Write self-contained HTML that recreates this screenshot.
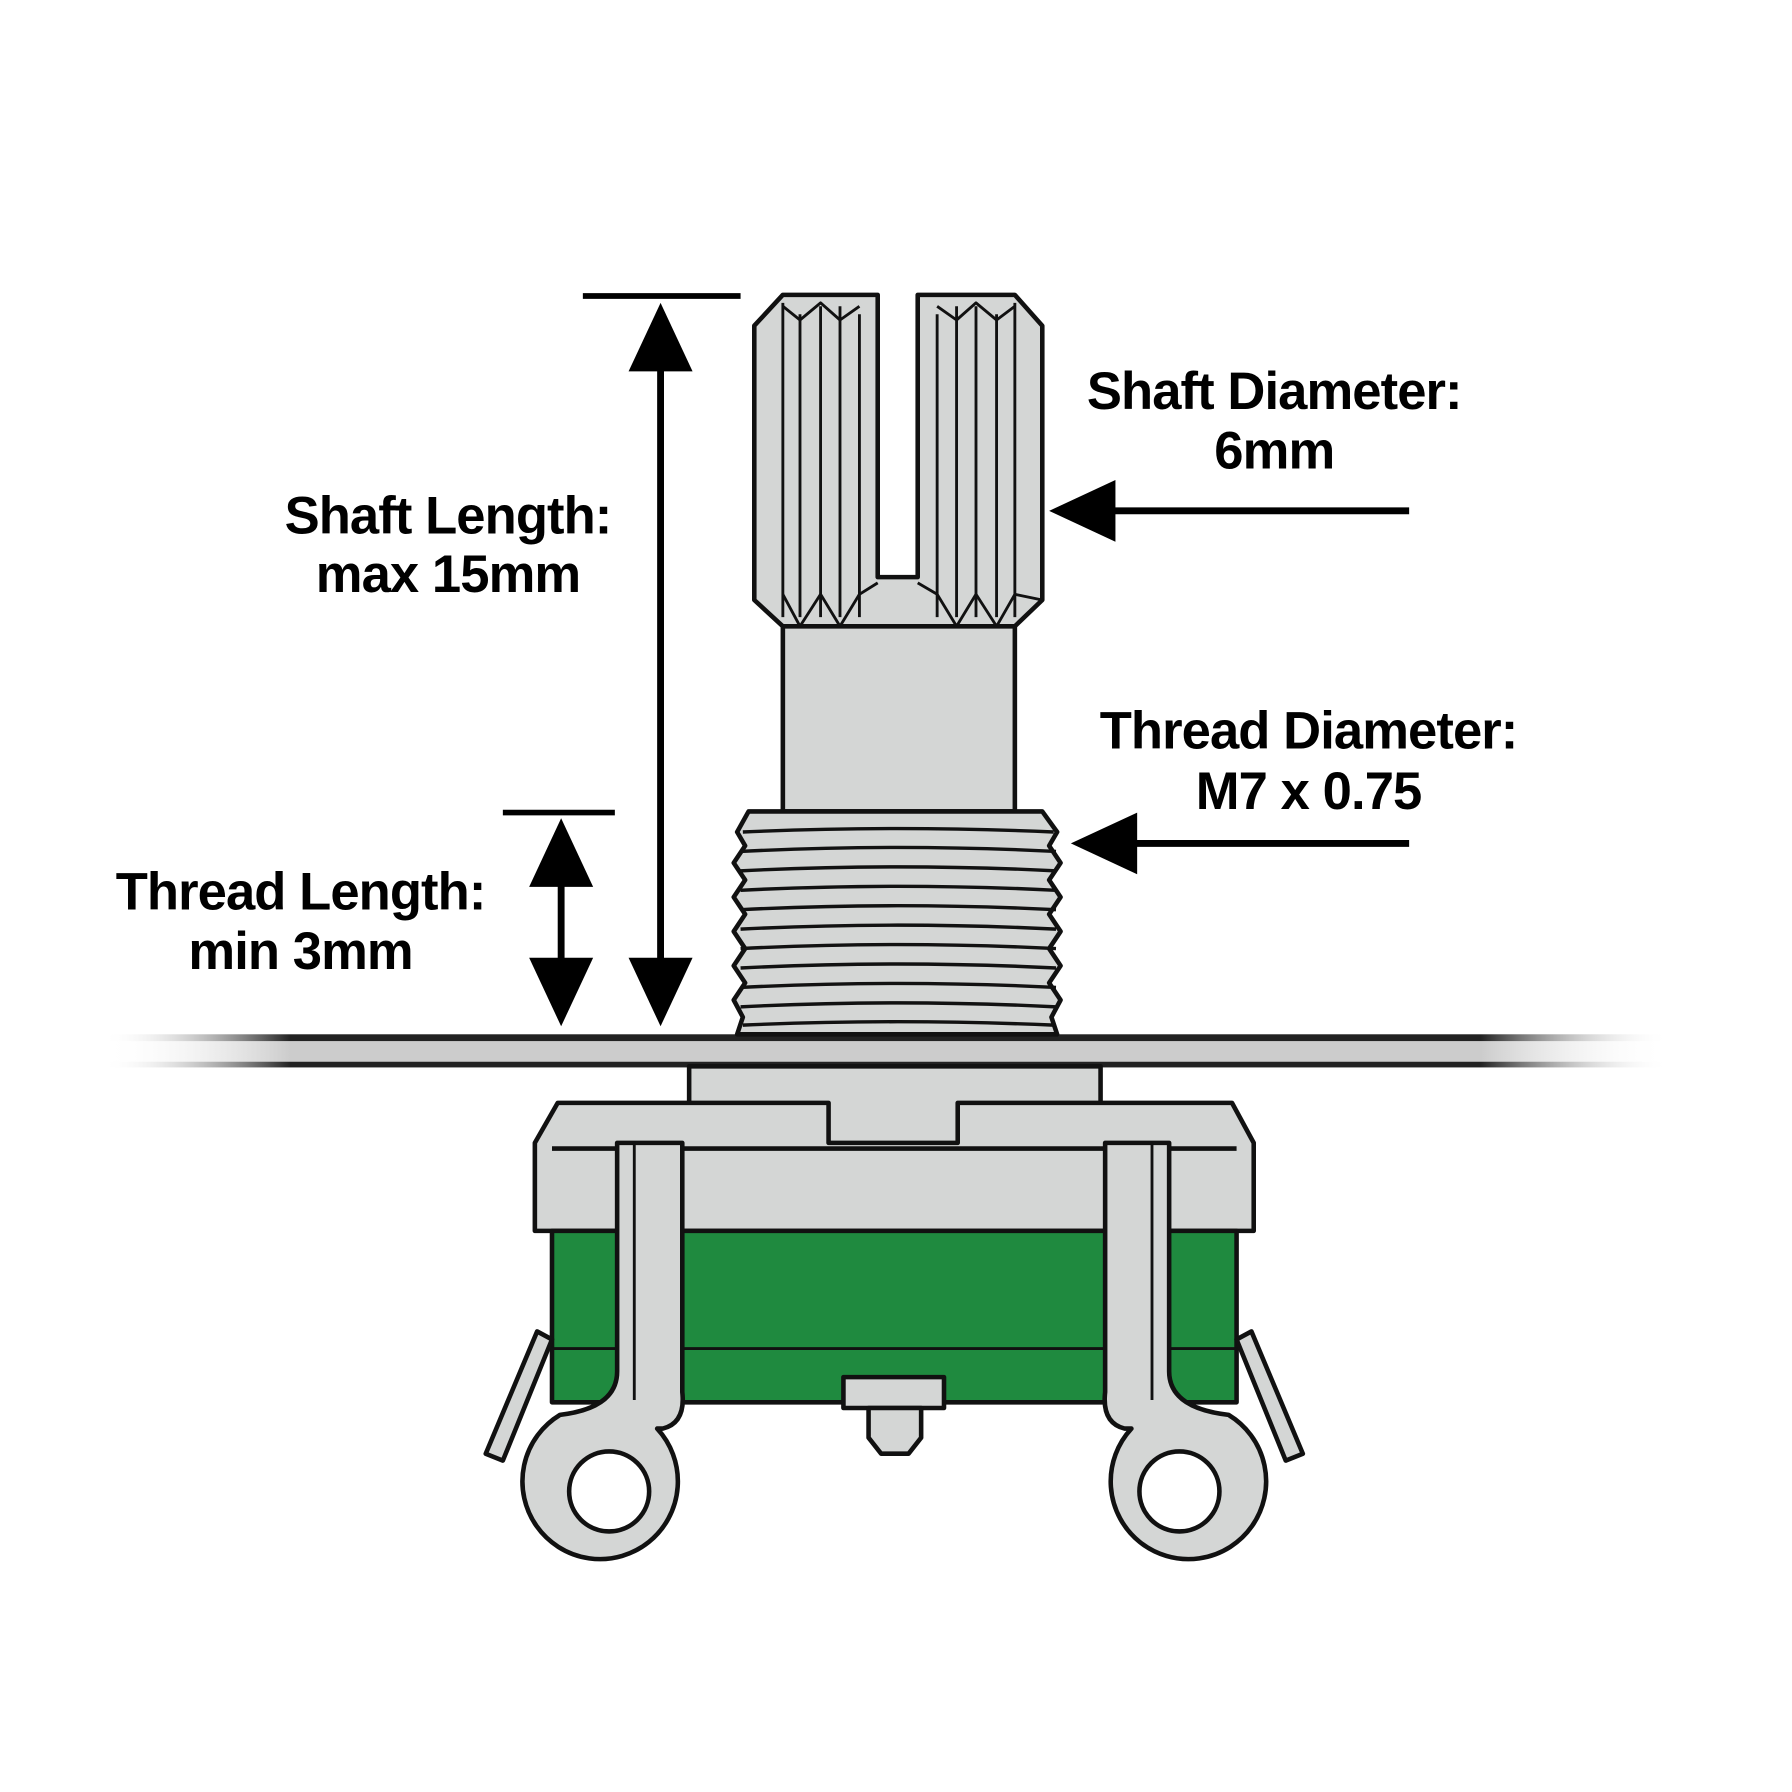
<!DOCTYPE html>
<html><head><meta charset="utf-8"><style>
html,body{margin:0;padding:0;background:#fff;}
svg{display:block;}
text{font-family:"Liberation Sans",sans-serif;font-weight:bold;font-size:46px;fill:#000;letter-spacing:-0.8px;}
</style></head><body>
<svg width="1792" height="1792" viewBox="0 0 1568 1568" xmlns="http://www.w3.org/2000/svg">
<defs>
<linearGradient id="plate" x1="0" x2="1" y1="0" y2="0">
<stop offset="0" stop-color="#fff" stop-opacity="0"/>
<stop offset="0.12" stop-color="#222"/>
<stop offset="0.88" stop-color="#222"/>
<stop offset="1" stop-color="#fff" stop-opacity="0"/>
</linearGradient>
<linearGradient id="plate2" x1="0" x2="1" y1="0" y2="0">
<stop offset="0" stop-color="#fff" stop-opacity="0"/>
<stop offset="0.12" stop-color="#999"/>
<stop offset="0.88" stop-color="#999"/>
<stop offset="1" stop-color="#fff" stop-opacity="0"/>
</linearGradient>
</defs>
<rect width="1568" height="1568" fill="#fff"/>

<rect x="90" y="905" width="1370" height="6" fill="url(#plate)"/>
<rect x="90" y="911" width="1370" height="18" fill="url(#plate2)" opacity="0.5"/>
<rect x="90" y="929" width="1370" height="5" fill="url(#plate)"/>

<g stroke="#111" stroke-width="4" stroke-linejoin="round">
<path d="M660,285 L685,258 L768,258 L768,505 L803,505 L803,258 L888,258 L912,285 L912,525 L888,548 L685,548 L660,525 Z" fill="#d4d6d5"/>
<g fill="none" stroke-width="2.5">
<path d="M685,265 L685,540 M700,275 L700,540 M718,268 L718,540 M735,268 L735,540 M752,275 L752,540"/>
<path d="M820,275 L820,540 M837,268 L837,540 M854,268 L854,540 M872,275 L872,540 M888,265 L888,540"/>
<path d="M685,268 L700,280 L718,265 L735,280 L752,268 M820,268 L837,280 L854,265 L872,280 L888,268"/>
<path d="M660,525 L685,548 M685,520 L700,548 L718,520 L735,548 L752,520 L768,510 M803,510 L820,520 L837,548 L854,520 L872,548 L888,520 L912,525"/>
</g>
<rect x="685" y="548" width="203" height="162" fill="#d4d6d5"/>
<path d="M655,710 L912,710 L925,728 L918,740 L928,755 L918,770 L928,785 L918,800 L928,815 L918,830 L928,845 L918,860 L928,875 L920,890 L925,905 L645,905 L650,890 L642,875 L652,860 L642,845 L652,830 L642,815 L652,800 L642,785 L652,770 L642,755 L652,740 L645,728 Z" fill="#d4d6d5"/>
<g fill="none" stroke-width="3">
<path d="M650,728 Q785,722 922,728 M648,745 Q785,738 924,745 M648,762 Q785,755 924,762 M648,779 Q785,772 924,779 M648,796 Q785,789 924,796 M648,813 Q785,806 924,813 M648,830 Q785,823 924,830 M648,847 Q785,840 924,847 M648,864 Q785,857 924,864 M648,881 Q785,874 924,881 M650,897 Q785,891 922,897"/>
</g>

<rect x="603" y="933" width="360" height="70" fill="#d4d6d5"/>
<path d="M488,965 L725,965 L725,1000 L838,1000 L838,965 L1078,965 L1097,1000 L1097,1077 L468,1077 L468,1000 Z" fill="#d4d6d5"/>
<path d="M483,1005 L1082,1005" fill="none"/>
<rect x="483" y="1077" width="599" height="150" fill="#1f8a3f"/>
<path d="M483,1180 L1082,1180" fill="none" stroke-width="2.5"/>
<path d="M470,1165 L483,1172 L440,1278 L425,1272 Z" fill="#d4d6d5"/>
<path d="M1095,1165 L1082,1172 L1125,1278 L1140,1272 Z" fill="#d4d6d5"/>
<rect x="738" y="1205" width="88" height="27" fill="#d4d6d5"/>
<path d="M760,1232 L806,1232 L806,1258 L795,1272 L771,1272 L760,1258 Z" fill="#d4d6d5"/>
<path d="M540,1000 L597,1000 L597,1218 Q600,1245 580,1250 L575,1250 A68,68 0 1 1 490,1238 Q540,1232 540,1200 Z" fill="#d4d6d5"/>
<circle cx="533" cy="1305" r="35" fill="#fff"/>
<path d="M555,1000 L555,1225" fill="none" stroke-width="2.5"/>
<path d="M1023,1000 L967,1000 L967,1218 Q964,1245 984,1250 L990,1250 A68,68 0 1 0 1075,1238 Q1023,1232 1023,1200 Z" fill="#d4d6d5"/>
<circle cx="1032" cy="1305" r="35" fill="#fff"/>
<path d="M1008,1000 L1008,1225" fill="none" stroke-width="2.5"/>
</g>

<g fill="#000" stroke="#000">
<line x1="510" y1="259" x2="648" y2="259" stroke-width="5"/>
<line x1="578" y1="300" x2="578" y2="860" stroke-width="6"/>
<polygon points="578,265 550,325 606,325" stroke="none"/>
<polygon points="578,898 550,838 606,838" stroke="none"/>
<line x1="440" y1="711" x2="538" y2="711" stroke-width="5"/>
<line x1="491" y1="760" x2="491" y2="860" stroke-width="6"/>
<polygon points="491,716 463,776 519,776" stroke="none"/>
<polygon points="491,898 463,838 519,838" stroke="none"/>
<line x1="970" y1="447" x2="1233" y2="447" stroke-width="6"/>
<polygon points="918,447 976,420 976,474" stroke="none"/>
<line x1="990" y1="738" x2="1233" y2="738" stroke-width="6"/>
<polygon points="937,738 995,711 995,765" stroke="none"/>
</g>

<text x="392" y="467" text-anchor="middle">Shaft Length:</text>
<text x="392" y="518" text-anchor="middle">max 15mm</text>
<text x="263" y="796" text-anchor="middle">Thread Length:</text>
<text x="263" y="848" text-anchor="middle">min 3mm</text>
<text x="1115" y="358" text-anchor="middle">Shaft Diameter:</text>
<text x="1115" y="410" text-anchor="middle">6mm</text>
<text x="1145" y="655" text-anchor="middle">Thread Diameter:</text>
<text x="1145" y="708" text-anchor="middle">M7 x 0.75</text>
</svg>
</body></html>
